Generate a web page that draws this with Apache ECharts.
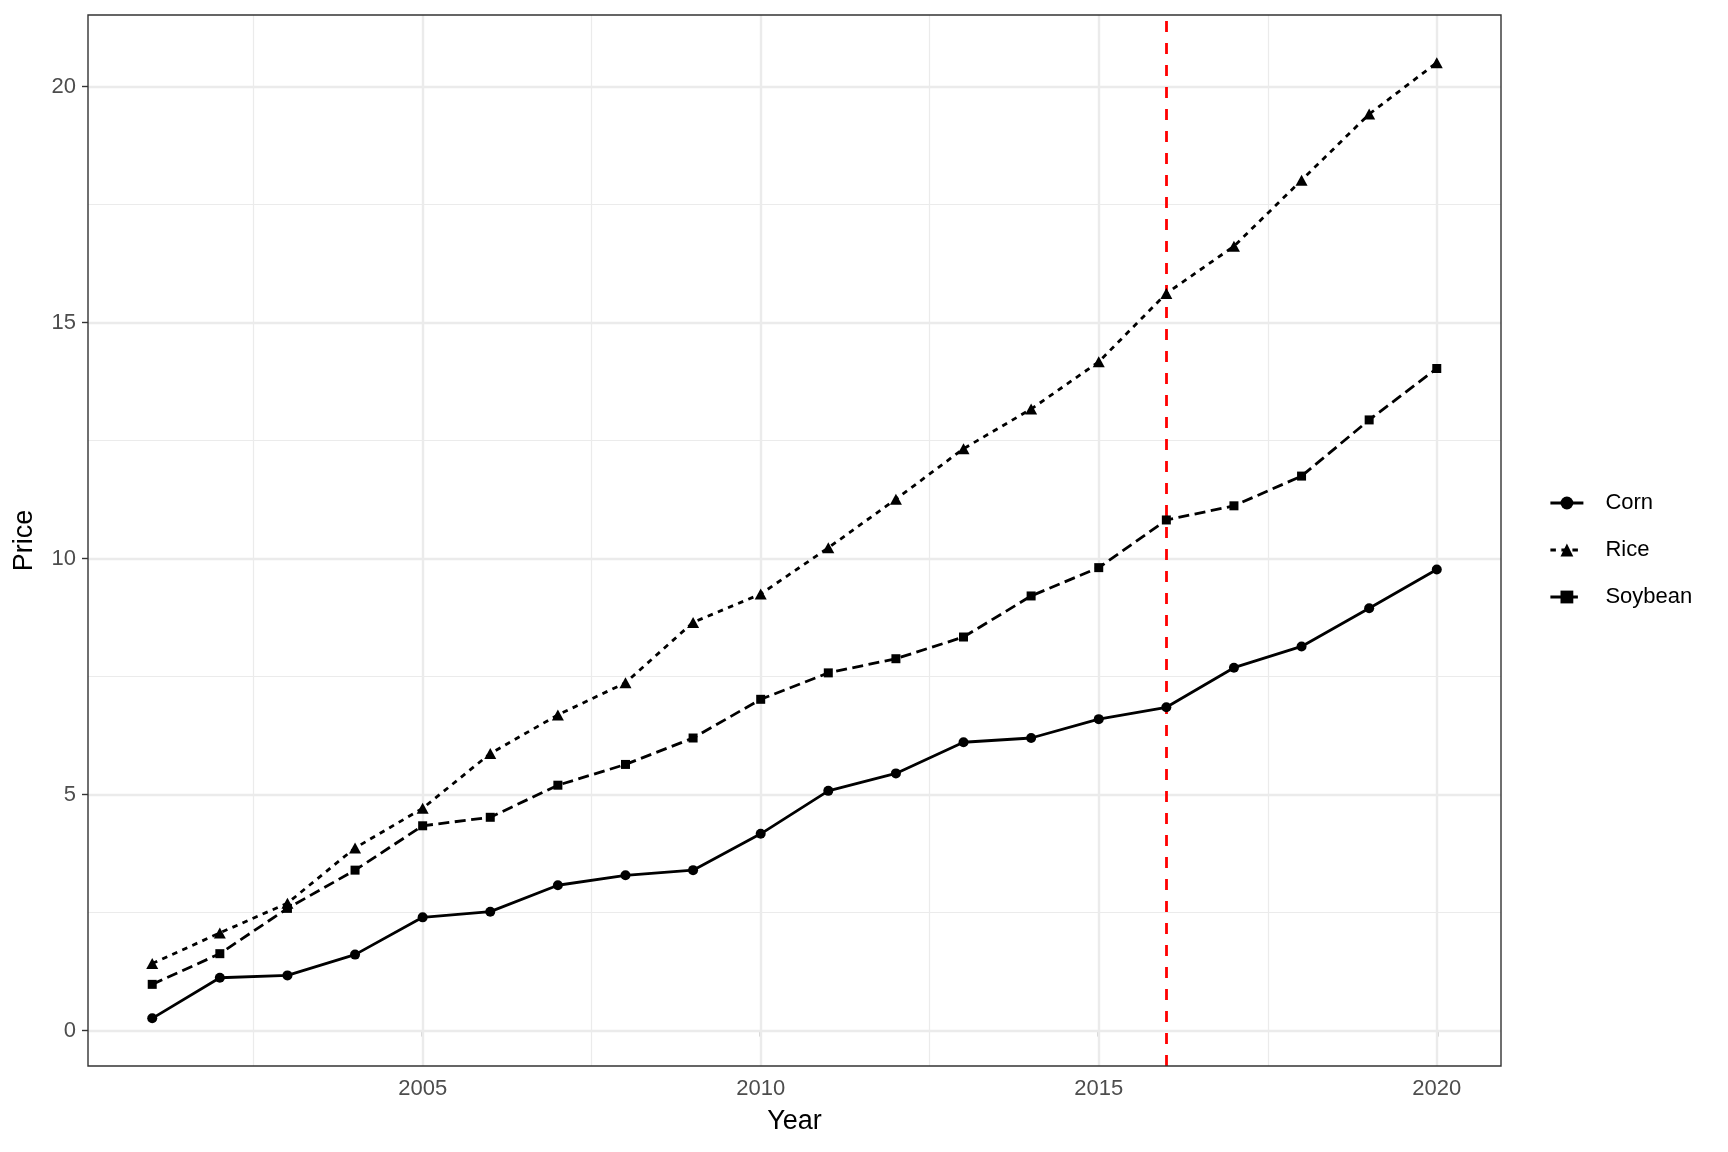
<!DOCTYPE html>
<html>
<head>
<meta charset="utf-8">
<script src="https://cdn.jsdelivr.net/npm/echarts@6/dist/echarts.min.js"></script>
<style>
html,body{margin:0;padding:0;background:#fff;}
#chart{width:1728px;height:1152px;}
</style>
</head>
<body>
<div id="chart"></div>
<script>
const years = [2001,2002,2003,2004,2005,2006,2007,2008,2009,2010,2011,2012,2013,2014,2015,2016,2017,2018,2019,2020];
const corn = [0.26,1.12,1.17,1.61,2.40,2.52,3.08,3.29,3.40,4.17,5.08,5.45,6.11,6.20,6.60,6.85,7.69,8.14,8.95,9.77];
const rice = [1.42,2.07,2.70,3.87,4.71,5.87,6.69,7.37,8.65,9.25,10.23,11.26,12.33,13.17,14.17,15.62,16.62,18.02,19.42,20.51];
const soybean = [0.98,1.63,2.59,3.40,4.34,4.52,5.20,5.64,6.20,7.02,7.58,7.88,8.34,9.21,9.81,10.82,11.12,11.75,12.94,14.03];
const xTicks = [2005,2010,2015,2020];
const xMinor = [2002.5,2007.5,2012.5,2017.5];
const yTicks = [0,5,10,15,20];
const yMinor = [2.5,7.5,12.5,17.5];
const vlineYear = 2016;

const FONT = "'Liberation Sans', Arial, Helvetica, sans-serif";
const pair = (arr) => years.map((y,i)=>[y,arr[i]]);

const chart = echarts.init(document.getElementById('chart'), null, {renderer:'canvas'});
const gridLines = [];
xMinor.forEach(v=>gridLines.push({xAxis:v, lineStyle:{color:'#EBEBEB', width:1.2, type:'solid'}}));
yMinor.forEach(v=>gridLines.push({yAxis:v, lineStyle:{color:'#EBEBEB', width:1.2, type:'solid'}}));
xTicks.forEach(v=>gridLines.push({xAxis:v, lineStyle:{color:'#EBEBEB', width:2.4, type:'solid'}}));
yTicks.forEach(v=>gridLines.push({yAxis:v, lineStyle:{color:'#EBEBEB', width:2.4, type:'solid'}}));

chart.setOption({
  animation:false,
  backgroundColor:'#ffffff',
  textStyle:{fontFamily:FONT},
  grid:{left:88, right:227, top:15, bottom:86, show:true, borderColor:'#333333', borderWidth:1.4, backgroundColor:'transparent', z:10},
  xAxis:{
    type:'value', min:2000.05, max:2020.95,
    name:'Year', nameLocation:'middle', nameGap:42,
    nameTextStyle:{fontFamily:FONT, fontSize:27, color:'#000'},
    axisLine:{show:false},
    splitLine:{show:false},
    axisTick:{show:true, customValues:xTicks, length:6, lineStyle:{color:'#333333', width:1.4}},
    axisLabel:{customValues:xTicks, formatter:(v)=>String(Math.round(v)), fontFamily:FONT, fontSize:22, color:'#4D4D4D', margin:12}
  },
  yAxis:{
    type:'value', min:-0.75, max:21.52,
    name:'Price', nameLocation:'middle', nameGap:50,
    nameTextStyle:{fontFamily:FONT, fontSize:27, color:'#000'},
    axisLine:{show:false},
    splitLine:{show:false},
    axisTick:{show:true, customValues:yTicks, length:6, lineStyle:{color:'#333333', width:1.4}},
    axisLabel:{customValues:yTicks, formatter:(v)=>String(Math.round(v)), fontFamily:FONT, fontSize:22, color:'#4D4D4D', margin:12}
  },
  legend:{
    orient:'vertical', left:1544, top:486,
    itemWidth:33, itemHeight:16, itemGap:23,
    data:['Corn','Rice','Soybean'],
    lineStyle:{width:2.8},
    textStyle:{fontFamily:FONT, fontSize:22, color:'#000', lineHeight:24, padding:[0,0,0,17]}
  },
  series:[
    {type:'line', name:'_grid', data:[], z:1, silent:true,
     markLine:{silent:true, symbol:'none', label:{show:false}, animation:false, data:gridLines}},
    {type:'line', name:'_vline', data:[], z:2, silent:true,
     markLine:{silent:true, symbol:'none', label:{show:false}, animation:false,
       data:[{xAxis:vlineYear, lineStyle:{color:'#FF0000', width:2.8, type:[11,11]}}]}},
    {type:'line', name:'Corn', data:pair(corn), z:5, symbol:'circle', symbolSize:10,
     lineStyle:{color:'#000', width:2.8, type:'solid'}, itemStyle:{color:'#000'}},
    {type:'line', name:'Rice', data:pair(rice), z:5, symbol:'triangle', symbolSize:[12,11],
     lineStyle:{color:'#000', width:2.8, type:[5.5,5.5]}, itemStyle:{color:'#000'}},
    {type:'line', name:'Soybean', data:pair(soybean), z:5, symbol:'rect', symbolSize:9,
     lineStyle:{color:'#000', width:2.8, type:[11,5.5]}, itemStyle:{color:'#000'}}
  ]
});
</script>
</body>
</html>
